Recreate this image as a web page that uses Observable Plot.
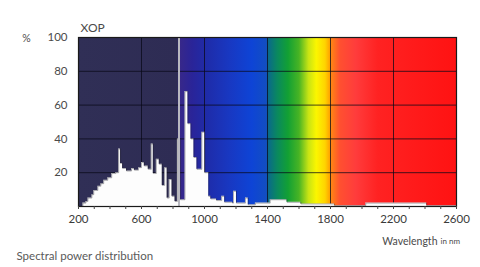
<!DOCTYPE html>
<html><head><meta charset="utf-8">
<script src="https://cdn.jsdelivr.net/npm/d3@7"></script>
<script src="https://cdn.jsdelivr.net/npm/@observablehq/plot@0.6"></script>
<style>html,body{margin:0;padding:0;background:#fff;overflow:hidden}#chart{width:480px;height:267px}</style>
</head><body><div id="chart"></div>
<script>
// Spectral power distribution (XOP xenon lamp), step bins: start wavelength (nm) and relative power (%)
const wavelength = [200,228,247,260,285,297,323,342,360,386,411,436,455,467,480,505,537,555,581,600,618,643,662,675,694,713,732,747,763,776,794,813,828,848,876,895,914,933,952,983,1002,1027,1040,1077,1109,1128,1178,1184,1203,1260,1278,1323,1417,1524,1612,1826,2024,2411,2600];
const power      = [0,2,3,5,7,9.5,12,13.5,15.5,17,19.5,20,34,25.5,22.5,21,22.5,21.5,23,26,24,22,37,19.5,28,25,12.5,23,5,16,6,3,40,4,68,49,40,29,22,44,20,6,4.5,3.5,6,2.5,2,9,2,5,1,2,4,2.5,1.5,0.5,2,0.5,0.5];
const peakWavelength = [838];
const xDomain = [200, 2600];
const yDomain = [0, 100];
const xLabelTicks = [200,600,1000,1400,1800,2200,2600];
const xMinorTicks = [200,300,400,500,600,700,800,900,1000,1100,1200,1300,1400,1500,1600,1700,1800,1900,2000,2100,2200,2300,2400,2500,2600];
const xGrid = [600,1000,1400,1800,2200];
const yTicks = [20,40,60,80,100];
const spectrumStops = [
  [200,"#302f56"],[825,"#2e2c54"],[845,"#37288a"],[920,"#2a2498"],[1020,"#1e2caa"],
  [1160,"#1838c2"],[1300,"#0e44d6"],[1392,"#124ec2"],[1405,"#0a6a8a"],[1460,"#0a8860"],
  [1530,"#12a034"],[1600,"#48b424"],[1660,"#c8e414"],[1710,"#fbf600"],[1765,"#ffd400"],
  [1795,"#ffa400"],[1805,"#ff8414"],[1860,"#ff5030"],[1960,"#ff3c3c"],[2100,"#ff2222"],[2600,"#ff1212"]
];

const rows = wavelength.map((w, i) => ({w, p: power[i]}));
const font = "Lato, 'Open Sans', sans-serif";

const chart = Plot.plot({
  width: 480, height: 267,
  marginLeft: 78, marginRight: 24, marginTop: 37, marginBottom: 61,
  style: {fontFamily: font, background: "transparent", color: "#555"},
  x: {domain: xDomain, axis: null},
  y: {domain: yDomain, axis: null},
  marks: [
    Plot.frame({fill: "url(#spectrum)", stroke: "none"}),
    Plot.gridX(xGrid, {stroke: "#0a0a18", strokeOpacity: 0.75, strokeWidth: 1}),
    Plot.gridY(yTicks.slice(0, 4), {stroke: "#0a0a18", strokeOpacity: 0.75, strokeWidth: 1}),
    Plot.areaY(rows, {x: "w", y: "p", curve: "step-after", fill: "#fdfdfd"}),
    Plot.lineY(rows, {x: "w", y: "p", curve: "step-after", stroke: "#1a1a22", strokeWidth: 0.7, strokeOpacity: 0.5}),
    Plot.ruleX(peakWavelength, {y1: yDomain[0], y2: yDomain[1], stroke: "#b8b8c0", strokeWidth: 2}),
    Plot.frame({stroke: "#1a1a1a", strokeWidth: 1.2}),
    Plot.axisX(xMinorTicks, {tickSize: 3, text: null, label: null, stroke: "#444"}),
    Plot.axisX(xLabelTicks, {tickSize: 3, tickPadding: 5, label: null, tickFormat: d => String(d), fontSize: 11.5, fill: "#3a3a3a", stroke: "#444"}),
    Plot.axisY(yTicks, {tickSize: 0, tickPadding: 11, label: null, tickFormat: d => String(d), fontSize: 11.5, fill: "#4a4a4a"}),
    Plot.text(["XOP"], {frameAnchor: "top-left", dx: 2, dy: -6, lineAnchor: "bottom", textAnchor: "start", fontSize: 12, fill: "#4a4a4a", letterSpacing: "0.5px"}),
    Plot.text(["%"], {frameAnchor: "top-left", dx: -52, dy: 1, lineAnchor: "middle", textAnchor: "middle", fontSize: 10.5, fill: "#4a4a4a"}),
    Plot.text(["Spectral power distribution"], {frameAnchor: "bottom-left", dx: -62, dy: 50, lineAnchor: "middle", textAnchor: "start", fontSize: 11.5, fill: "#5a5a5a"}),
    Plot.text(["Wavelength"], {frameAnchor: "bottom-right", dx: -19, dy: 35, lineAnchor: "middle", textAnchor: "end", fontSize: 10.5, fill: "#4a4a4a"}),
    Plot.text(["in nm"], {frameAnchor: "bottom-right", dx: -16, dy: 35, lineAnchor: "middle", textAnchor: "start", fontSize: 8, fill: "#4a4a4a"})
  ]
});

// gradient definition for the spectral background (offsets from the x domain)
const svg = d3.select(chart);
const grad = svg.insert("defs", ":first-child").append("linearGradient")
  .attr("id", "spectrum").attr("x1", "0").attr("x2", "1").attr("y1", "0").attr("y2", "0");
spectrumStops.forEach(([nm, c]) => {
  grad.append("stop").attr("offset", (nm - xDomain[0]) / (xDomain[1] - xDomain[0])).attr("stop-color", c);
});
document.getElementById("chart").append(chart);
</script>
</body></html>
